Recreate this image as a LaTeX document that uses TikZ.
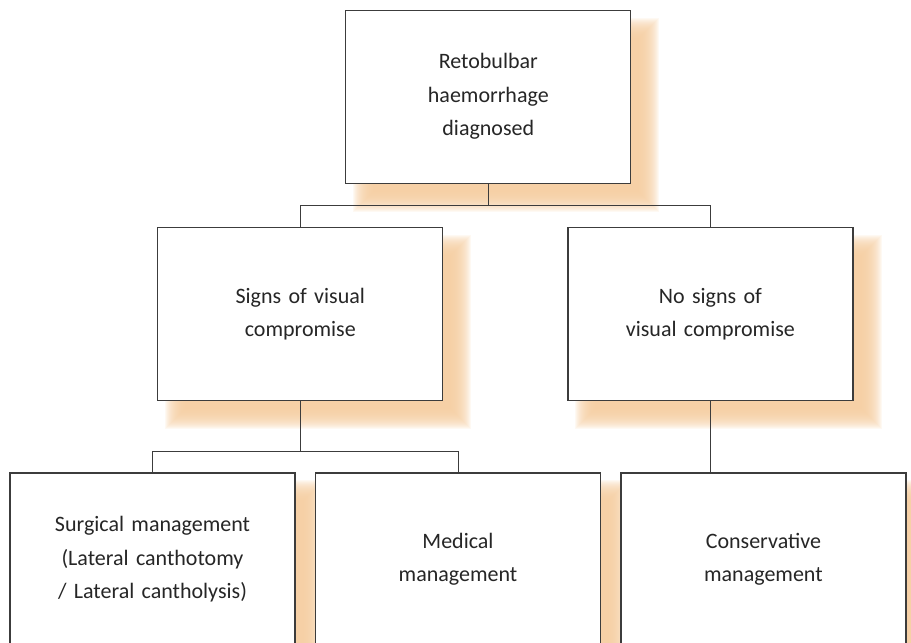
\documentclass[tikz,border=0pt]{standalone}
\usepackage{fontspec}
\setmainfont{Carlito}
\usetikzlibrary{backgrounds}
\definecolor{peach}{RGB}{245,205,160}
\definecolor{boxline}{RGB}{60,60,60}

\tikzset{
    stage/.style={draw=boxline, line width=1.2pt, fill=white,
        minimum width=285pt, minimum height=173pt, inner sep=0pt,
        text width=270pt, align=center, text=black!85,
        font=\fontsize{22}{33.5}\selectfont},
    conn/.style={draw=boxline, line width=1pt},
    glow/.style={fill=peach, opacity=0.12}
}

\begin{document}
\begin{tikzpicture}[x=1pt, y=-1pt]
    \useasboundingbox (0,0) rectangle (911,643);
    \node[stage] (diag) at (488.3,96.7) {Retobulbar\\haemorrhage\\diagnosed};
    \node[stage] (signs) at (300.3,314) {Signs of visual\\compromise};
    \node[stage] (nosigns) at (710.4,314) {No signs of\\visual compromise};
    \node[stage] (surg) at (152.5,559.4) {Surgical management\\(Lateral canthotomy\\/ Lateral cantholysis)};
    \node[stage] (med) at (458,559.4) {Medical\\management};
    \node[stage] (cons) at (763.4,559.4) {Conservative\\management};

    % soft shadows
    \begin{scope}[on background layer]
        \foreach \n in {diag,signs,nosigns,surg,med,cons}
            \foreach \r in {-10,-9,...,10}
                \fill[glow] ([shift={(18-\r,18-\r)}]\n.north west) rectangle ([shift={(18+\r,18+\r)}]\n.south east);
    \end{scope}

    \draw[conn] (diag.south) -- ++(0,22) -| (signs.north);
    \draw[conn] (diag.south) -- ++(0,22) -| (nosigns.north);
    \draw[conn] (signs.south) -- ++(0,50) -| (surg.north);
    \draw[conn] (signs.south) -- ++(0,50) -| (med.north);
    \draw[conn] (nosigns.south) -- (nosigns.south |- cons.north);
\end{tikzpicture}
\end{document}
